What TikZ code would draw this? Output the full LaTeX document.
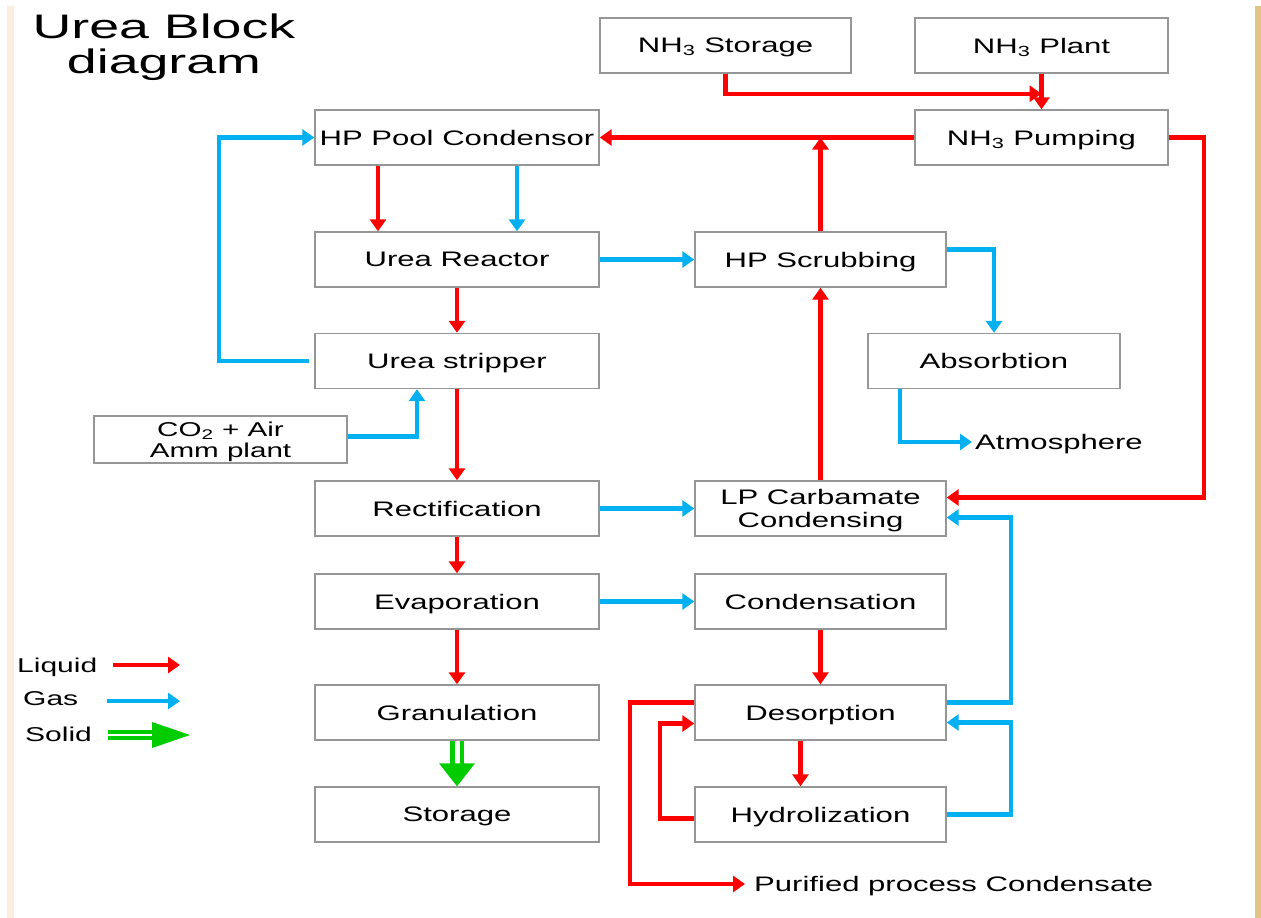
\documentclass[tikz,border=0pt]{standalone}
\usepackage{fontspec}
\setmainfont{Liberation Sans}
\usepackage{graphicx}
\usetikzlibrary{arrows.meta,calc}

\definecolor{liqred}{RGB}{255,0,0}
\definecolor{gasblue}{RGB}{0,176,240}
\definecolor{solgreen}{RGB}{0,204,0}
\definecolor{boxframe}{RGB}{150,150,150}
\definecolor{peachband}{RGB}{253,238,224}
\definecolor{beigeband}{RGB}{226,196,134}

% wide lettering: stretch horizontally, drop the depth so lines centre on capitals
\newcommand\sx[1]{\scalebox{1.48}[1]{\raisebox{0pt}[\height][0pt]{#1}}}
\newcommand\sxl[1]{\scalebox{1.5}[1]{\raisebox{0pt}[\height][0pt]{#1}}}
\newcommand\sxt[1]{\scalebox{1.58}[1]{#1}}

\begin{document}
\begin{tikzpicture}[
  x=1pt, y=-1pt,
  box/.style={draw=boxframe, line width=1.4pt, fill=white, inner sep=0pt,
    minimum height=55pt, align=center, font=\fontsize{21}{23}\selectfont},
  freetext/.style={inner sep=0pt, font=\fontsize{21}{23}\selectfont},
  legendtext/.style={inner sep=0pt, anchor=west, font=\fontsize{20}{22}\selectfont},
  titletext/.style={inner sep=0pt, anchor=base, font=\fontsize{34}{36}\selectfont},
  liquid/.style={draw=liqred, line width=4.3pt, line join=miter,
    -{Triangle[length=12pt,width=16pt]}},
  gas/.style={draw=gasblue, line width=4.3pt, line join=miter,
    -{Triangle[length=12pt,width=16pt]}},
  solidshaft/.style={draw=solgreen, double=white},
]
\useasboundingbox (0,0) rectangle (1261,918);
\fill[white] (0,0) rectangle (1261,918);
\fill[peachband] (7,6) rectangle (14,918);
\fill[beigeband] (1255,6) rectangle (1261,918);

% title, two centred lines
\node[titletext] (title1) at (164,38) {\sxt{Urea Block}};
\node[titletext] (title2) at (164,73) {\sxt{diagram}};

% process blocks
\node[box, minimum width=251pt] (nh3s)  at (725.5,45.5)  {\sx{NH\textsubscript{3} Storage}};
\node[box, minimum width=253pt] (nh3p)  at (1041.5,45.5) {\sx{NH\textsubscript{3} Plant}};
\node[box, minimum width=284pt] (hpc)   at (457,137.5)   {\sx{HP Pool Condensor}};
\node[box, minimum width=253pt] (pump)  at (1041.5,137.5){\sx{NH\textsubscript{3} Pumping}};
\node[box, minimum width=284pt] (reac)  at (457,259.5)   {\sx{Urea Reactor}};
\node[box, minimum width=251pt] (scrub) at (820.5,259.5) {\sx{HP Scrubbing}};
\node[box, minimum width=284pt] (strip) at (457,361)     {\sx{Urea stripper}};
\node[box, minimum width=252pt] (absb)  at (994,361)     {\sx{Absorbtion}};
\node[box, minimum width=253pt, minimum height=47pt, font=\fontsize{20}{21}\selectfont]
  (co2) at (220.5,439.5) {\sx{CO\textsubscript{2} + Air}\\\sx{Amm plant}};
\node[box, minimum width=284pt] (rect)  at (457,508.5)   {\sx{Rectification}};
\node[box, minimum width=251pt] (lpc)   at (820.5,508.5) {\sx{LP Carbamate}\\\sx{Condensing}};
\node[box, minimum width=284pt] (evap)  at (457,601.5)   {\sx{Evaporation}};
\node[box, minimum width=251pt] (cond)  at (820.5,601.5) {\sx{Condensation}};
\node[box, minimum width=284pt] (gran)  at (457,712.5)   {\sx{Granulation}};
\node[box, minimum width=251pt] (desp)  at (820.5,712.5) {\sx{Desorption}};
\node[box, minimum width=284pt] (stor)  at (457,814.5)   {\sx{Storage}};
\node[box, minimum width=251pt] (hyd)   at (820.5,814.5) {\sx{Hydrolization}};

% outlet labels
\node[freetext, anchor=west] (atm) at (975,442) {\sx{Atmosphere}};
\node[freetext, anchor=west] (pur) at (754,884) {\sx{Purified process Condensate}};

% ammonia supply
\draw[liquid] (nh3s.south) |- ($(nh3p.south)+(0,20)$);
\draw[liquid] (nh3p.south) -- (pump.north);
\draw[liquid] (pump.west) -- (hpc.east);
\draw[liquid] (scrub.north) -- (scrub.north |- pump.west);
\draw[liquid] (pump.east) -- ++(35,0) |- ($(lpc.east)+(0,-11)$);

% synthesis loop
\draw[liquid] ($(hpc.south)+(-79,0)$) -- ($(reac.north)+(-79,0)$);
\draw[gas]    ($(hpc.south)+(60,0)$)  -- ($(reac.north)+(60,0)$);
\draw[gas]    (reac.east) -- (scrub.west);
\draw[liquid] (reac.south) -- (strip.north);
\draw[gas]    ($(strip.west)+(-5,0)$) -- ++(-90,0) |- (hpc.west);
\draw[gas]    ($(scrub.east)+(0,-10)$) -| (absb.north);
\draw[gas]    ($(absb.south)+(-94,0)$) |- ($(atm.west)+(-3,0)$);
\draw[gas]    ($(co2.east)+(0,-3)$) -| ($(strip.south)+(-40,0)$);

% recirculation and finishing
\draw[liquid] (strip.south) -- (rect.north);
\draw[liquid] (lpc.north) -- (scrub.south);
\draw[gas]    (rect.east) -- (lpc.west);
\draw[liquid] (rect.south) -- (evap.north);
\draw[gas]    (evap.east) -- (cond.west);
\draw[liquid] (evap.south) -- (gran.north);
\draw[liquid] (cond.south) -- (desp.north);

% process condensate treatment
\draw[gas]    ($(desp.east)+(0,-10)$) -- ++(64,0) |- ($(lpc.east)+(0,9)$);
\draw[gas]    (hyd.east) -- ++(64,0) |- ($(desp.east)+(0,10)$);
\draw[liquid] ($(desp.south)+(-20,0)$) -- ($(hyd.north)+(-20,0)$);
\draw[liquid] ($(hyd.west)+(0,4)$) -- ++(-34,0) |- ($(desp.west)+(0,11)$);
\draw[liquid] ($(desp.west)+(0,-10)$) -- ++(-64,0) |- ($(pur.west)+(-9,0)$);

% solid product
\draw[solidshaft, line width=4.5pt, double distance=5pt]
  (gran.south) -- ($(stor.north)+(0,-21)$);
\fill[solgreen] ($(stor.north)+(-18,-23)$) -- (stor.north) -- ($(stor.north)+(18,-23)$) -- cycle;

% legend
\node[legendtext] (lliq) at (17,665) {\sxl{Liquid}};
\node[legendtext] (lgas) at (23,699) {\sxl{Gas}};
\node[legendtext] (lsol) at (25,734) {\sxl{Solid}};
\coordinate (lq1) at (113,665);
\coordinate (lq2) at (180,665);
\coordinate (lg1) at (107,701);
\coordinate (lg2) at (180,701);
\coordinate (ls1) at (108,735);
\coordinate (ls2) at (190,735);
\draw[liquid] (lq1) -- (lq2);
\draw[gas] (lg1) -- (lg2);
\draw[solidshaft, line width=3.5pt, double distance=2.5pt] (ls1) -- ($(ls2)+(-37,0)$);
\fill[solgreen] ($(ls2)+(-38,-13)$) -- (ls2) -- ($(ls2)+(-38,13)$) -- cycle;
\end{tikzpicture}
\end{document}
